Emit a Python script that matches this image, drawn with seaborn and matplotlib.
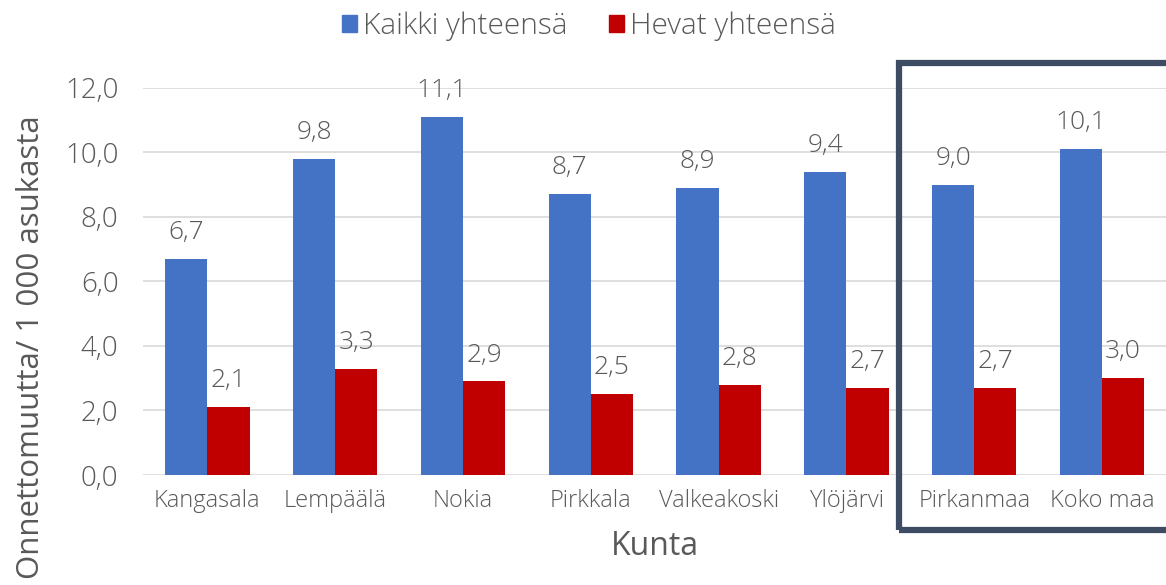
import pandas as pd
import matplotlib
matplotlib.use("Agg")
import matplotlib.pyplot as plt
import matplotlib.patches as mpatches
from matplotlib.ticker import FuncFormatter
import seaborn as sns

# -----------------------------
# Data
# -----------------------------
kunnat = ["Kangasala", "Lempäälä", "Nokia", "Pirkkala", "Valkeakoski",
          "Ylöjärvi", "Pirkanmaa", "Koko maa"]
kaikki = [6.7, 9.8, 11.1, 8.7, 8.9, 9.4, 9.0, 10.1]
hevat = [2.1, 3.3, 2.9, 2.5, 2.8, 2.7, 2.7, 3.0]
sarjat = ["Kaikki yhteensä", "Hevat yhteensä"]
yticks = [0, 2, 4, 6, 8, 10, 12]

df = pd.DataFrame({
    "Kunta": kunnat * 2,
    "arvo": kaikki + hevat,
    "sarja": [sarjat[0]] * len(kunnat) + [sarjat[1]] * len(kunnat),
})

# -----------------------------
# Styling
# -----------------------------
sns.set_style("white")
plt.rcParams["font.family"] = ["Open Sans", "DejaVu Sans"]
plt.rcParams["font.weight"] = "light"
TEXT = "#595959"
COLORS = {sarjat[0]: "#4472c4", sarjat[1]: "#c00000"}

fig = plt.figure(figsize=(11.66, 5.85), dpi=100)
ax = fig.add_axes([0.123, 0.188, 0.877, 0.662])

sns.barplot(data=df, x="Kunta", y="arvo", hue="sarja", palette=COLORS,
            width=0.66, saturation=1, linewidth=0, ax=ax, legend=False)

for cont in ax.containers:
    ax.bar_label(cont, labels=[f"{v:.1f}".replace(".", ",") for v in cont.datavalues],
                 padding=10, fontsize=19, color=TEXT)

ax.set_ylim(0, 12)
ax.set_yticks(yticks)
ax.yaxis.set_major_formatter(FuncFormatter(lambda v, p: f"{v:.1f}".replace(".", ",")))
ax.set_xlim(-0.5, len(kunnat) - 0.5)
ax.grid(axis="y", color="#d9d9d9", linewidth=1.2)
ax.set_axisbelow(True)
for s in ax.spines.values():
    s.set_visible(False)
ax.tick_params(axis="y", labelsize=20, colors=TEXT, length=0, pad=18)
ax.tick_params(axis="x", labelsize=17, colors=TEXT, length=0, pad=10)
ax.set_xlabel("Kunta", fontsize=23, color=TEXT, labelpad=12)
ax.set_ylabel("Onnettomuutta/ 1 000 asukasta", fontsize=22.5, color=TEXT)
ax.yaxis.set_label_coords(-0.095, 0.33)

# legend
handles = [mpatches.Patch(color=COLORS[s], label=s) for s in sarjat]
fig.legend(handles=handles, loc="center", bbox_to_anchor=(0.505, 0.955), ncol=2,
           frameon=False, fontsize=21.5, labelcolor=TEXT, handlelength=0.5,
           handleheight=0.5, handletextpad=0.2, columnspacing=1.4)

# box around Pirkanmaa + Koko maa
box = mpatches.Rectangle((0.771, 0.094), 0.26, 0.798, transform=fig.transFigure,
                         fill=False, edgecolor="#3d4b63", linewidth=4.5, clip_on=False)
fig.add_artist(box)

plt.savefig("out.png", dpi=100)
